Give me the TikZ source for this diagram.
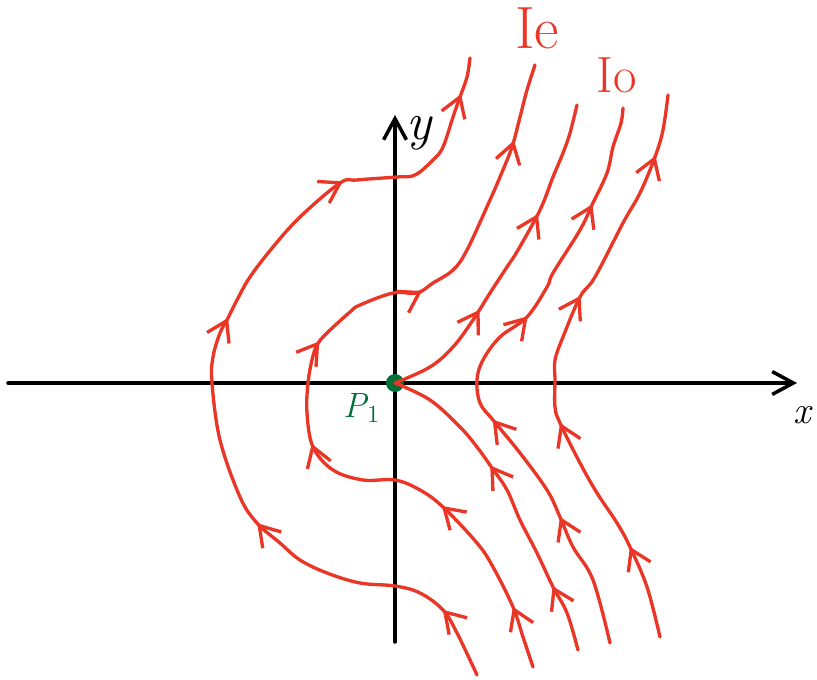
\documentclass[tikz,border=0pt]{standalone}
\usepackage{xcolor}
\usepackage{tikz}
\usetikzlibrary{arrows.meta, decorations.markings}
\definecolor{flowred}{RGB}{234,54,38}
\definecolor{pointgreen}{RGB}{0,112,56}

\begin{document}
\begin{tikzpicture}[
    axis/.style={line width=2pt, line cap=round, -{Straight Barb[length=12pt,width=13pt]}},
    flow/.style={flowred, line width=1.9pt, line cap=round, line join=round},
    flowtip/.style={postaction={decorate, decoration={markings,
        mark=at position #1 with {\arrow{Straight Barb[length=11pt,width=14pt]}}}}},
    lbl/.style={inner sep=0pt}
  ]
  \useasboundingbox (-7.9,-5.94) rectangle (8.44,7.66);

  % axes
  \coordinate (xstart) at (-7.74,0);
  \coordinate (xend) at (8.04,0);
  \coordinate (ystart) at (0,-5.18);
  \coordinate (yend) at (0,5.36);
  \draw[axis] (xstart) -- (xend);
  \draw[axis] (ystart) -- (yend);

  % critical point
  \node[circle, fill=pointgreen, inner sep=0pt, minimum size=0.36cm] (p1) at (0,0) {};

  % outer orbit
  \draw[flow, flowtip=0.083, flowtip=0.32, flowtip=0.565, flowtip=0.768, flowtip=0.958]
    plot[smooth, tension=0.6] coordinates {
      (1.64,-5.84) (1.24,-5.00) (0.96,-4.54) (0.50,-4.20) (0.00,-4.06)
      (-0.70,-4.00) (-1.36,-3.80) (-1.90,-3.54) (-2.30,-3.20) (-2.76,-2.80)
      (-3.10,-2.28) (-3.50,-1.14) (-3.66,0.00) (-3.64,0.52) (-3.50,1.00)
      (-3.36,1.26) (-3.16,1.66) (-2.90,2.12) (-2.44,2.72) (-1.90,3.32)
      (-1.10,4.00) (-0.76,4.06) (0.04,4.12) (0.40,4.16) (0.76,4.46)
      (0.96,4.72) (1.16,5.32) (1.30,5.72) (1.44,6.12) (1.50,6.50)};

  % inner orbit
  \draw[flow, flowtip=0.077, flowtip=0.228, flowtip=0.413, flowtip=0.54, flowtip=0.685, flowtip=0.905]
    plot[smooth, tension=0.6] coordinates {
      (2.76,-5.68) (2.56,-5.08) (2.36,-4.48) (1.96,-3.68) (1.64,-3.20)
      (0.96,-2.48) (0.50,-2.14) (0.00,-1.94) (-0.64,-1.94) (-1.24,-1.74)
      (-1.64,-1.28) (-1.76,-0.60) (-1.74,0.00) (-1.66,0.46) (-1.56,0.76)
      (-1.36,1.00) (-0.90,1.42) (-0.70,1.56) (-0.04,1.80) (0.44,1.80)
      (0.76,2.00) (1.16,2.26) (1.44,2.66) (1.90,3.66) (2.10,4.12)
      (2.34,4.72) (2.50,5.32) (2.64,5.86) (2.80,6.36)};

  % separatrices through P1
  \draw[flow, flowtip=0.335, flowtip=0.662]
    plot[smooth, tension=0.6] coordinates {
      (0,0) (0.70,0.32) (1.16,0.72) (1.56,1.26) (1.90,1.80) (2.24,2.32)
      (2.46,2.66) (2.90,3.46) (3.16,4.12) (3.36,4.60) (3.50,5.00) (3.64,5.56)};
  \draw[flow, flowtip=0.207, flowtip=0.615]
    plot[smooth, tension=0.6] coordinates {
      (3.66,-5.34) (3.44,-4.60) (3.16,-4.08) (2.84,-3.40) (2.50,-2.74)
      (2.24,-2.14) (1.94,-1.70) (1.64,-1.28) (1.30,-0.88) (0.70,-0.34) (0,0)};

  % open orbits on the right
  \draw[flow, flowtip=0.222, flowtip=0.415, flowtip=0.624, flowtip=0.835]
    plot[smooth, tension=0.6] coordinates {
      (4.30,-5.20) (3.96,-3.94) (3.56,-3.28) (3.30,-2.68) (3.04,-2.14)
      (2.50,-1.40) (1.96,-0.74) (1.70,-0.40) (1.64,0.06) (1.76,0.46)
      (2.10,0.92) (2.64,1.32) (3.04,1.92) (3.16,2.20) (3.70,3.06)
      (3.94,3.56) (4.24,4.20) (4.36,4.72) (4.52,5.20) (4.56,5.50)};
  \draw[flow, flowtip=0.161, flowtip=0.401, flowtip=0.626, flowtip=0.895]
    plot[smooth, tension=0.6] coordinates {
      (5.30,-5.08) (5.04,-4.08) (4.70,-3.28) (4.44,-2.80) (4.04,-2.20)
      (3.70,-1.60) (3.30,-0.80) (3.20,-0.48) (3.20,0.06) (3.20,0.46)
      (3.36,0.92) (3.70,1.72) (4.00,2.12) (4.56,3.20) (4.90,3.80)
      (5.20,4.52) (5.36,5.06) (5.46,5.76)};

  % labels
  \node[lbl] (xlabel) at (8.15,-0.65) {\fontsize{22}{24}\selectfont\itshape x};
  \node[lbl] (ylabel) at (0.48,5.00) {\fontsize{30}{32}\selectfont\itshape y};
  \node[lbl, text=pointgreen] (p1label) at (-0.66,-0.50)
    {\fontsize{20}{22}\selectfont\itshape P\textsubscript{\upshape 1}};
  \node[lbl, text=flowred] (ielabel) at (2.84,7.10) {\fontsize{34}{36}\selectfont Ie};
  \node[lbl, text=flowred] (iolabel) at (4.44,6.16) {\fontsize{29}{31}\selectfont Io};
\end{tikzpicture}
\end{document}
